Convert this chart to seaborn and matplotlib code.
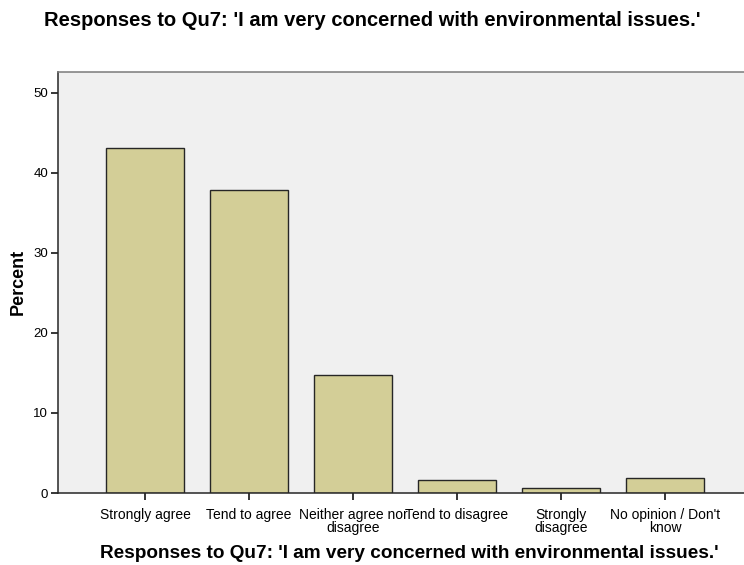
import matplotlib
matplotlib.use("Agg")
from matplotlib import pyplot as plt
import pandas as pd
import seaborn as sns

# Survey responses (percent)
categories = ["Strongly agree", "Tend to agree", "Neither agree nor disagree",
              "Tend to disagree", "Strongly disagree", "No opinion / Don't know"]
tick_labels = ["Strongly agree", "Tend to agree", "Neither agree nor\ndisagree",
               "Tend to disagree", "Strongly\ndisagree", "No opinion / Don't\nknow"]
percent = [43.1, 37.8, 14.8, 1.6, 0.6, 1.9]

title = "Responses to Qu7: 'I am very concerned with environmental issues.'"

sns.set_style("ticks")
plt.rcParams["font.family"] = ["Liberation Sans", "DejaVu Sans"]
plt.rcParams["text.color"] = "black"
plt.rcParams["xtick.color"] = "black"
plt.rcParams["ytick.color"] = "black"

df = pd.DataFrame({"response": categories, "percent": percent})

fig = plt.figure(figsize=(7.44, 5.65), dpi=100)
ax = fig.add_axes([58 / 744, 72 / 565, 686 / 744, 421 / 565])
ax.set_facecolor("#f0f0f0")

sns.barplot(data=df, x="response", y="percent", order=categories, color="#d3ce97",
            saturation=1, width=0.75, edgecolor="#262626", linewidth=1.0, ax=ax)

ax.set_xlim(-0.837, 5.76)
ax.set_ylim(0, 52.6)
ax.set_yticks([0, 10, 20, 30, 40, 50])
ax.set_xticks(range(len(categories)))
ax.set_xticklabels(tick_labels, fontsize=10, linespacing=0.85)
ax.tick_params(axis="y", labelsize=9.5, length=5, width=1.3, color="#262626", pad=2)
ax.tick_params(axis="x", length=5, width=1.3, color="#262626", pad=6)

for side in ["left", "bottom"]:
    ax.spines[side].set_color("#262626")
    ax.spines[side].set_linewidth(1.1)
ax.spines["top"].set_color("#7a7a7a")
ax.spines["top"].set_linewidth(1.1)
ax.spines["right"].set_visible(False)

ax.set_xlabel("")
ax.set_ylabel("")

fig.text(0.5, 1 - 20 / 565, title, fontsize=14.5, fontweight="bold",
         ha="center", va="center")
fig.text(409 / 744, 1 - 553 / 565, title, fontsize=13.7, fontweight="bold",
         ha="center", va="center")
fig.text(18 / 744, 1 - 282 / 565, "Percent", fontsize=13, fontweight="bold",
         rotation=90, ha="center", va="center")

fig.savefig("out.png", dpi=100)
